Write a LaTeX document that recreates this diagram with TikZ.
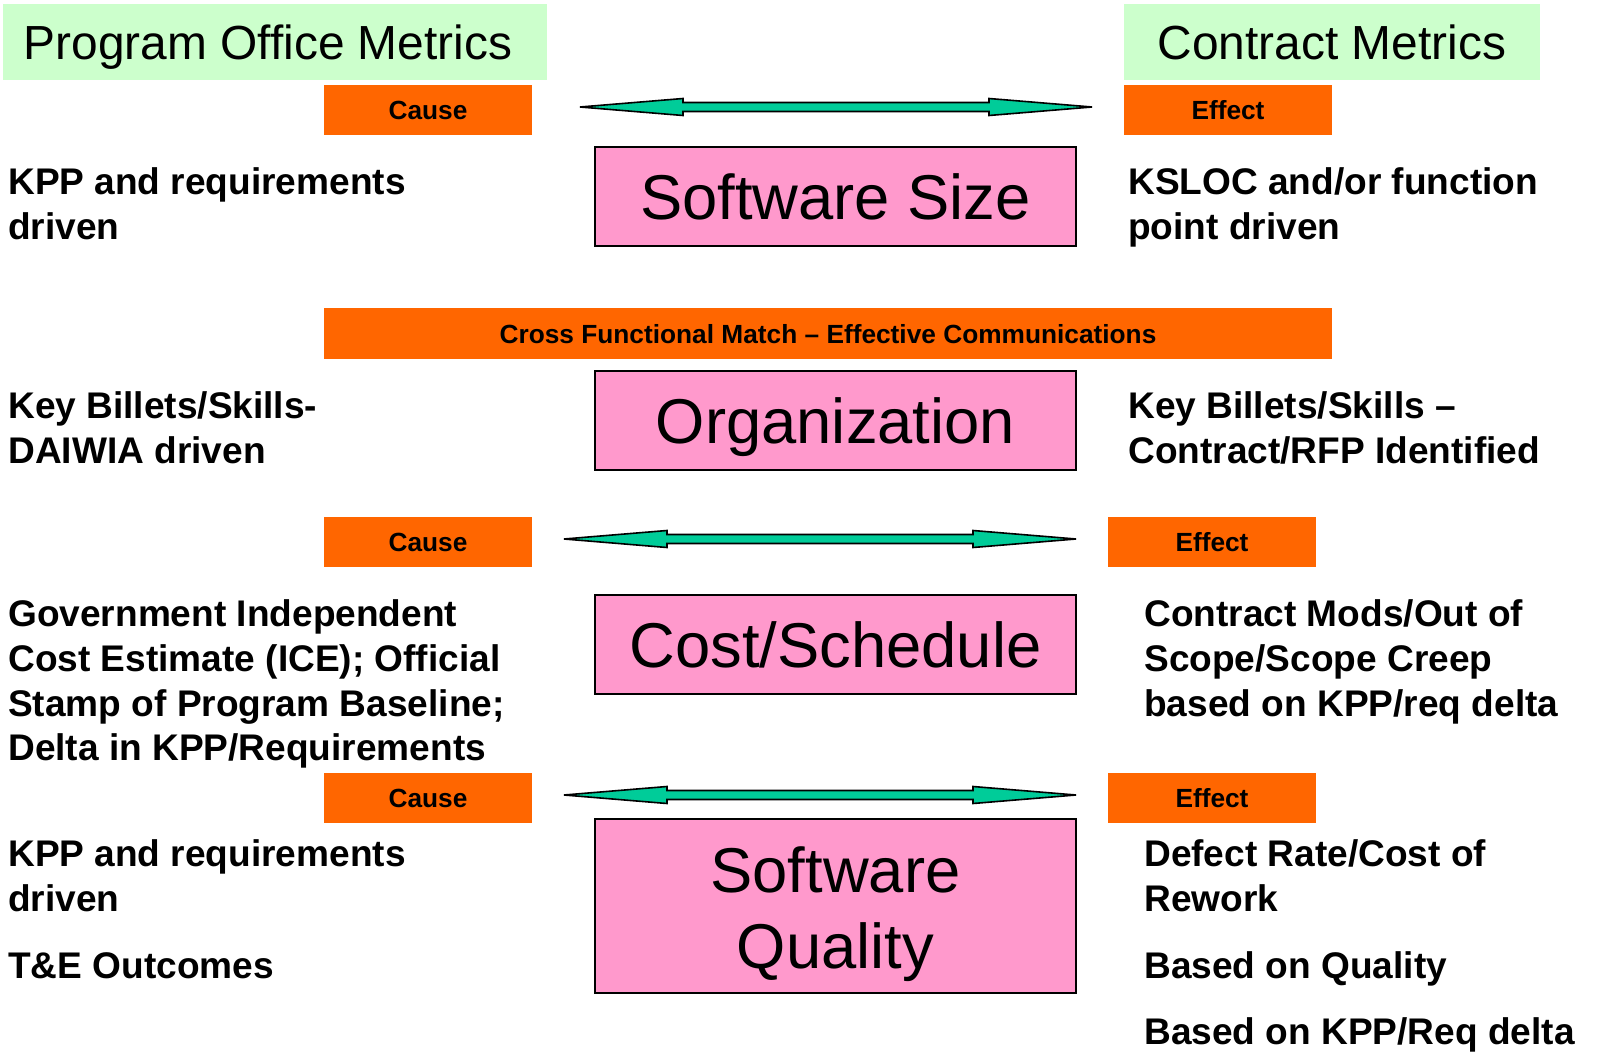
\documentclass[tikz,border=0pt]{standalone}
\usepackage{fontspec}
\setmainfont{Liberation Sans}
\usetikzlibrary{calc}
\definecolor{mgreen}{HTML}{CCFFCC}
\definecolor{morange}{HTML}{FF6600}
\definecolor{mpink}{HTML}{FF99CC}
\definecolor{mteal}{HTML}{00CC99}
\tikzset{
  titlebox/.style={fill=mgreen, draw=none, inner sep=0pt, minimum height=76*0.75pt,
    font=\fontsize{35.9}{42}\selectfont, text height=25.6pt, text depth=0pt},
  tagbox/.style={fill=morange, draw=none, inner sep=0pt, minimum height=50*0.75pt,
    minimum width=208*0.75pt, font=\bfseries\fontsize{19.7}{24}\selectfont,
    text height=14.6pt, text depth=0pt},
  topicbox/.style={fill=mpink, draw=black, line width=1.5pt, inner sep=0pt,
    minimum width=481*0.75pt, font=\fontsize{47.5}{57}\selectfont, align=center},
  topictext/.style={font=\fontsize{47.5}{57}\selectfont, align=center, inner sep=0pt},
  ltxt/.style={anchor=base west, inner sep=0pt, font=\bfseries\fontsize{27.8}{33.75}\selectfont},
  dblarrowstyle/.style={fill=mteal, draw=black, line width=1.2pt, line join=miter},
}
\newcommand\mydblarrow[2]{%
  \draw[dblarrowstyle] (#1) -- ($(#1)+(103,-8.5)$) -- ($(#1)+(103,-4.5)$)
    -- ($(#2)+(-103,-4.5)$) -- ($(#2)+(-103,-8.5)$) -- (#2)
    -- ($(#2)+(-103,8.5)$) -- ($(#2)+(-103,4.5)$)
    -- ($(#1)+(103,4.5)$) -- ($(#1)+(103,8.5)$) -- cycle;}
\begin{document}
\begin{tikzpicture}[x=0.75pt, y=-0.75pt]
\useasboundingbox[fill=white] (0,0) rectangle (1604,1060);

% header boxes
\node[titlebox, minimum width=544*0.75pt] (po) at (275,42) {Program Office Metrics\hspace*{10.5pt}};
\node[titlebox, minimum width=416*0.75pt] (cm) at (1332,42) {Contract Metrics};

% tags
\node[tagbox] (c1) at (428,110) {Cause};
\node[tagbox] (e1) at (1228,110) {Effect};
\node[tagbox, minimum width=1008*0.75pt, minimum height=51*0.75pt] (cf) at (828,333.5) {Cross Functional Match -- Effective Communications};
\node[tagbox] (c2) at (428,542) {Cause};
\node[tagbox] (e2) at (1212,542) {Effect};
\node[tagbox] (c3) at (428,797.5) {Cause};
\node[tagbox] (e3) at (1212,797.5) {Effect};

% topic boxes
\node[topicbox, minimum height=99*0.75pt, text height=34pt, text depth=0pt] (ss) at (835.5,196.5) {Software Size};
\node[topicbox, minimum height=99*0.75pt, text height=34pt, text depth=0pt] (org) at (835.5,420.5) {Organization};
\node[topicbox, minimum height=99*0.75pt, text height=34pt, text depth=0pt] (cs) at (835.5,644.5) {Cost/Schedule};
\node[topicbox, minimum height=174*0.75pt] (sq) at (835.5,906) {};
\node[topictext] (sqt) at ($(sq.center)+(0,8)$) {Software\\Quality};

% double arrows
\coordinate (a1l) at (580,107);  \coordinate (a1r) at (1092,107);
\coordinate (a2l) at (564,539);  \coordinate (a2r) at (1076,539);
\coordinate (a3l) at (564,795);  \coordinate (a3r) at (1076,795);
\mydblarrow{a1l}{a1r}
\mydblarrow{a2l}{a2r}
\mydblarrow{a3l}{a3r}

% left texts
\node[ltxt] (l1a) at (8,194) {KPP and requirements};
\node[ltxt] (l1b) at (8,239) {driven};
\node[ltxt] (l2a) at (8,418) {Key Billets/Skills-};
\node[ltxt] (l2b) at (8,463) {DAIWIA driven};
\node[ltxt] (l3a) at (8,626) {Government Independent};
\node[ltxt] (l3b) at (8,671) {Cost Estimate (ICE); Official};
\node[ltxt] (l3c) at (8,716) {Stamp of Program Baseline;};
\node[ltxt] (l3d) at (8,760) {Delta in KPP/Requirements};
\node[ltxt] (l4a) at (8,866) {KPP and requirements};
\node[ltxt] (l4b) at (8,911) {driven};
\node[ltxt] (l4c) at (8,978) {T\&E Outcomes};

% right texts
\node[ltxt] (r1a) at (1128,194) {KSLOC and/or function};
\node[ltxt] (r1b) at (1128,239) {point driven};
\node[ltxt] (r2a) at (1128,418) {Key Billets/Skills --};
\node[ltxt] (r2b) at (1128,463) {Contract/RFP Identified};
\node[ltxt] (r3a) at (1144,626) {Contract Mods/Out of};
\node[ltxt] (r3b) at (1144,671) {Scope/Scope Creep};
\node[ltxt] (r3c) at (1144,716) {based on KPP/req delta};
\node[ltxt] (r4a) at (1144,866) {Defect Rate/Cost of};
\node[ltxt] (r4b) at (1144,911) {Rework};
\node[ltxt] (r4c) at (1144,978) {Based on Quality};
\node[ltxt] (r4d) at (1144,1044) {Based on KPP/Req delta};
\end{tikzpicture}
\end{document}
